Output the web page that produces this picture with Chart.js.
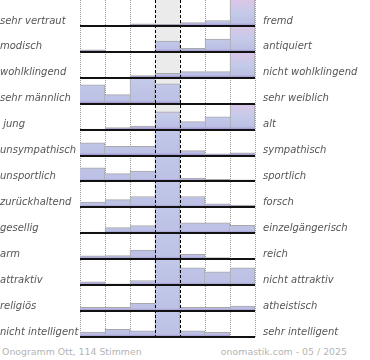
<!DOCTYPE html>
<html>
<head>
<meta charset="utf-8">
<script src="https://cdn.jsdelivr.net/npm/chart.js@4.4.1/dist/chart.umd.min.js"></script>
<style>
  body { margin: 0; background: #fff; }
  #wrap { position: relative; width: 370px; height: 340px; }
  .foot { position: absolute; top: 346px; font: 9.4px 'DejaVu Sans', sans-serif; line-height: 12px; color: #b4b4b4; white-space: nowrap; }
</style>
</head>
<body>
<div id="wrap"><canvas id="onogramm"></canvas></div>
<div class="foot" style="left:2px">Onogramm Ott, 114 Stimmen</div>
<div class="foot" style="right:23px">onomastik.com - 05 / 2025</div>
<script>
// scale points of the differential
const steps = ['-3', '-2', '-1', '0', '1', '2', '3'];

const leftLabels = ['sehr vertraut', 'modisch', 'wohlklingend', 'sehr männlich', ' jung', 'unsympathisch', 'unsportlich',
    'zurückhaltend', 'gesellig', 'arm', 'attraktiv', 'religiös', 'nicht intelligent'];
const rightLabels = ['fremd', 'antiquiert', 'nicht wohlklingend', 'sehr weiblich', 'alt', 'sympathisch', 'sportlich',
    'forsch', 'einzelgängerisch', 'reich', 'nicht attraktiv', 'atheistisch', 'sehr intelligent'];

// votes per step in % of the row height (above 100 the bar runs off the row)
const vertraut = [0, 0, 8, 6, 13, 21, 100];
const modisch = [8, 0, 0, 42, 14, 49, 100];
const wohlklingend = [0, 0, 8, 17, 24, 24, 100];
const maennlich = [73, 35, 200, 77, 0, 0, 0];
const jung = [2, 8, 14, 69, 31, 49, 100];
const unsympathisch = [49, 36, 36, 250, 19, 7, 10];
const unsportlich = [53, 30, 40, 250, 13, 8, 6];
const zurueckhaltend = [20, 30, 42, 250, 42, 14, 9];
const gesellig = [5, 22, 30, 250, 40, 40, 31];
const arm = [13, 14, 35, 250, 19, 6, 0];
const attraktiv = [13, 5, 18, 250, 67, 51, 67];
const religioes = [14, 14, 30, 250, 14, 14, 19];
const intelligent = [19, 30, 24, 250, 24, 18, 0];

const rows = [vertraut, modisch, wohlklingend, maennlich, jung, unsympathisch, unsportlich,
    zurueckhaltend, gesellig, arm, attraktiv, religioes, intelligent];
const nRows = rows.length;

const rowLabel = (list, v) => list[nRows - 1 - v] ?? '';

// gradient runs from the baseline up to the row's biggest bar
function rowFill(ctx) {
    const chart = ctx.chart;
    const ds = ctx.dataset;
    if (!chart.chartArea) return '#c4cae8';
    const y = chart.scales.y;
    const bottom = y.getPixelForValue(ds.rowBase);
    const top = y.getPixelForValue(ds.rowBase + ds.rowMax);
    const g = chart.ctx.createLinearGradient(0, bottom, 0, top);
    const edge = Math.min(3 / Math.max(bottom - top, 1), 0.3);
    g.addColorStop(0, '#9c8bca');
    g.addColorStop(edge, '#bcc1e5');
    g.addColorStop(0.5, '#c4cae9');
    g.addColorStop(1, '#dcc6e7');
    return g;
}

// grey outline only where the step goes down
function stepEdges(ctx) {
    const d = ctx.dataset.data;
    const h = i => (d[i] ? d[i][1] - d[i][0] : 0);
    const i = ctx.dataIndex;
    const cur = h(i);
    if (!cur) return 0;
    return {
        top: cur < 1 ? 1 : 0,
        left: i > 0 && h(i - 1) < cur ? 1 : 0,
        right: i === d.length - 1 || h(i + 1) < cur ? 1 : 0,
        bottom: 0
    };
}

const rowSets = rows.map((vals, r) => {
    const base = nRows - 1 - r;
    return {
        data: vals.map(v => (v > 0 ? [base, base + Math.min(v, 100) / 100] : null)),
        rowBase: base,
        rowMax: Math.max(...vals) / 100,
        backgroundColor: rowFill,
        borderColor: '#a8a8a8',
        borderWidth: stepEdges,
        borderSkipped: false
    };
});

// shaded neutral column
rowSets.push({
    data: steps.map(s => (s === '0' ? [0, nRows] : null)),
    backgroundColor: '#ebebeb',
    borderWidth: 0,
    order: 1
});

const labelFont = { family: 'DejaVu Sans', size: 10, style: 'italic' };
const middle = c => c.index === 3 || c.index === 4;

new Chart(document.getElementById('onogramm'), {
    type: 'bar',
    data: { labels: steps, datasets: rowSets },
    options: {
        responsive: true,
        maintainAspectRatio: false,
        animation: false,
        layout: { padding: { bottom: 3 } },
        datasets: { bar: { grouped: false, barPercentage: 1, categoryPercentage: 1 } },
        plugins: { legend: { display: false }, tooltip: { enabled: false } },
        scales: {
            x: {
                type: 'category',
                offset: true,
                grid: { offset: true, drawTicks: false, color: c => (middle(c) ? 'transparent' : '#999') },
                border: { display: false, dash: [1, 1] },
                ticks: { display: false }
            },
            x2: {
                type: 'category',
                position: 'bottom',
                offset: true,
                grid: { offset: true, drawTicks: false, z: 1, color: c => (middle(c) ? '#000' : 'transparent') },
                border: { display: false, dash: [3, 2] },
                ticks: { display: false }
            },
            y: {
                type: 'linear',
                position: 'left',
                min: 0,
                max: nRows,
                afterFit: s => { s.width = 80; s.paddingTop = 0; s.paddingBottom = 0; },
                grid: { drawTicks: false, lineWidth: 2, z: 1, color: c => (c.tick && c.tick.value < nRows ? '#111' : 'transparent') },
                border: { display: false },
                ticks: {
                    stepSize: 1, autoSkip: false, crossAlign: 'far', padding: 0, labelOffset: -5,
                    color: '#555', font: labelFont,
                    callback: v => rowLabel(leftLabels, v)
                }
            },
            y2: {
                type: 'linear',
                position: 'right',
                min: 0,
                max: nRows,
                afterFit: s => { s.width = 115; s.paddingTop = 0; s.paddingBottom = 0; },
                grid: { display: false, drawTicks: false },
                border: { display: false },
                ticks: {
                    stepSize: 1, autoSkip: false, crossAlign: 'near', padding: 8, labelOffset: -5,
                    color: '#555', font: labelFont,
                    callback: v => rowLabel(rightLabels, v)
                }
            }
        }
    }
});
</script>
</body>
</html>
